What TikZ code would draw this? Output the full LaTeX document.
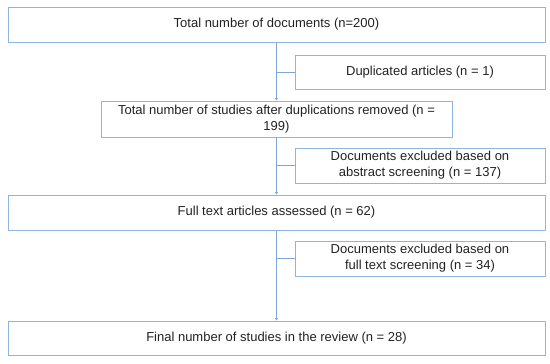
\documentclass[tikz,border=0pt]{standalone}
\usepackage{fontspec}
\setmainfont{Liberation Sans}
\usetikzlibrary{arrows.meta}
\definecolor{boxc}{HTML}{8EB4E3}
\definecolor{linec}{HTML}{7FA6DA}
\definecolor{txt}{HTML}{222222}
\begin{document}
\begin{tikzpicture}[x=1pt,y=-1pt,
  bx/.style={draw=boxc,line width=1pt,inner sep=0pt,align=center,text=txt,font=\fontsize{13}{16}\selectfont},
  conn/.style={draw=linec,line width=0.8pt},
  arr/.style={conn,-{Triangle[width=3pt,length=2.5pt]}}]
\useasboundingbox (0,0) rectangle (550,364);
\node[bx,minimum width=537pt,minimum height=35pt] (b1) at (276.5,24.5) {Total number of documents (n=200)};
\node[bx,minimum width=250pt,minimum height=34pt] (d1) at (420,72) {Duplicated articles (n = 1)};
\node[bx,minimum width=351pt,minimum height=36pt] (b2) at (276.5,119) {Total number of studies after duplications removed (n =\\199)};
\node[bx,minimum width=250pt,minimum height=35pt] (d2) at (420,165.5) {Documents excluded based on\\abstract screening (n = 137)};
\node[bx,minimum width=537pt,minimum height=35pt] (b3) at (276.5,212.5) {Full text articles assessed (n = 62)};
\node[bx,minimum width=250pt,minimum height=35pt] (d3) at (420,258.5) {Documents excluded based on\\full text screening (n = 34)};
\node[bx,minimum width=537pt,minimum height=34pt] (b4) at (276.5,338) {Final number of studies in the review (n = 28)};
\coordinate (x1) at (b1.south |- d1.west);
\coordinate (x2) at (b2.south |- d2.west);
\coordinate (x3) at (b3.south |- d3.west);
\draw[arr] (b1.south) -- (b2.north);
\draw[arr] (b2.south) -- (b3.north);
\draw[arr] (b3.south) -- (b4.north);
\draw[conn] (x1) -- (d1.west);
\draw[conn] (x2) -- (d2.west);
\draw[conn] (x3) -- (d3.west);
\end{tikzpicture}
\end{document}
